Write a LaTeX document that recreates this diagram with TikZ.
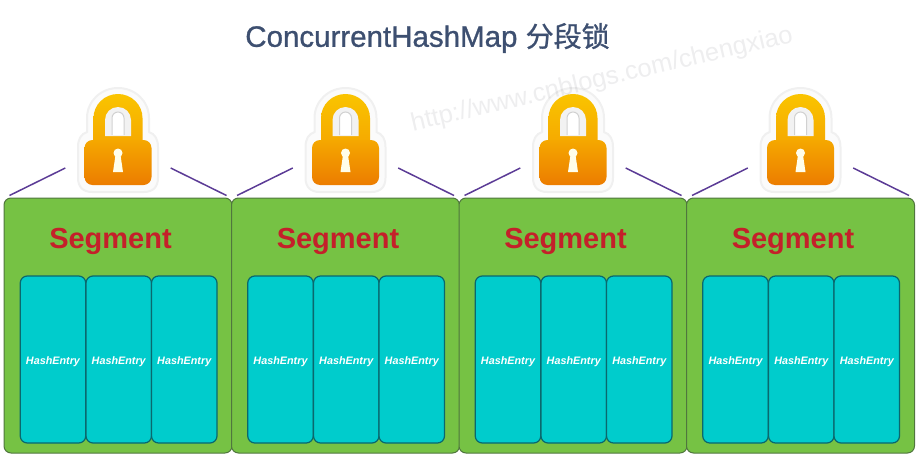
\documentclass[tikz,border=0pt]{standalone}
\usepackage{fontspec}
\setmainfont{Liberation Sans}
\newfontfamily\cjk[FakeBold=0.9]{Noto Sans CJK SC}
\newfontfamily\titlefont[FakeBold=0.9]{Liberation Sans}
\definecolor{titleblue}{RGB}{61, 79, 112}
\definecolor{segmentgreen}{RGB}{118, 194, 68}
\definecolor{segmentedge}{RGB}{80, 118, 62}
\definecolor{segmentred}{RGB}{196, 32, 42}
\definecolor{entrycyan}{RGB}{0, 204, 204}
\definecolor{entryedge}{RGB}{10, 104, 110}
\definecolor{tiepurple}{RGB}{92, 60, 150}
\definecolor{locktop}{RGB}{250, 196, 0}
\definecolor{lockmid}{RGB}{245, 168, 0}
\definecolor{lockbottom}{RGB}{236, 124, 0}
\definecolor{lockhalo}{RGB}{240, 240, 240}
\definecolor{lockglow}{RGB}{251, 251, 251}
\definecolor{watermark}{RGB}{120, 120, 130}
\usetikzlibrary{calc}
\tikzset{
    segbox/.style={draw=segmentedge, line width=1pt, fill=segmentgreen, rounded corners=7pt,
                   minimum width=228pt, minimum height=255pt, inner sep=0pt},
    entrybox/.style={draw=entryedge, line width=1.2pt, fill=entrycyan, rounded corners=7pt,
                     minimum width=65.5pt, minimum height=167pt, inner sep=0pt,
                     text height=10pt, text depth=0pt},
    lockbody/.style={rounded corners=8pt, minimum width=67pt, minimum height=45pt, inner sep=0pt,
                     top color=lockmid, bottom color=lockbottom},
    tie/.style={tiepurple, line width=1.5pt},
}

\begin{document}
\begin{tikzpicture}[x=1pt, y=-1pt]
    \useasboundingbox (0, 0) rectangle (918, 463);

    % Title
    \node[font=\titlefont\fontsize{29.5}{30}\selectfont, titleblue] (title) at (427.5, 38) {ConcurrentHashMap {\cjk\fontsize{28}{30}\selectfont 分段锁}};

    % Segments
    \foreach \i/\cx in {1/118, 2/345.5, 3/573, 4/800.5} {
        \node[segbox] (seg\i) at (\cx, 325.5) {};
        \node[font=\bfseries\fontsize{29}{30}\selectfont, segmentred, text height=21pt, text depth=0pt] (name\i) at (\cx-7.5, 238) {Segment};

        % HashEntry columns
        \foreach \j/\dx in {1/-65, 2/0.75, 3/66.25} {
            \node[entrybox, font=\bfseries\itshape\fontsize{10.8}{12}\selectfont, text=white] (entry\i\j) at (\cx+\dx, 359.5) {HashEntry};
        }

        % Lock halo
        \draw[lockhalo, line width=2pt, fill=lockglow] (\cx-40, 147)
            .. controls (\cx-40, 139) and (\cx-37, 134) .. (\cx-31, 132) -- (\cx-31, 118)
            .. controls (\cx-31, 101) and (\cx-17, 88) .. (\cx, 88)
            .. controls (\cx+17, 88) and (\cx+31, 101) .. (\cx+31, 118) -- (\cx+31, 132)
            .. controls (\cx+37, 134) and (\cx+40, 139) .. (\cx+40, 147) -- (\cx+40, 178)
            .. controls (\cx+40, 187) and (\cx+35, 192) .. (\cx+26, 192) -- (\cx-26, 192)
            .. controls (\cx-35, 192) and (\cx-40, 187) .. (\cx-40, 178) -- cycle;

        % Lock shackle
        \shade[top color=locktop, bottom color=lockmid] (\cx-24.5, 145) -- (\cx-24.5, 118)
            .. controls (\cx-24.5, 104.7) and (\cx-13.5, 94) .. (\cx, 94)
            .. controls (\cx+13.5, 94) and (\cx+24.5, 104.7) .. (\cx+24.5, 118) -- (\cx+24.5, 145) -- cycle;
        \fill[white!95!black] (\cx-13, 136) -- (\cx-13, 120)
            .. controls (\cx-13, 112.8) and (\cx-7.2, 107) .. (\cx, 107)
            .. controls (\cx+7.2, 107) and (\cx+13, 112.8) .. (\cx+13, 120) -- (\cx+13, 136) -- cycle;
        \draw[black!18, line width=1pt, fill=white] (\cx-6, 135) -- (\cx-6, 118)
            .. controls (\cx-6, 114.7) and (\cx-3.3, 112) .. (\cx, 112)
            .. controls (\cx+3.3, 112) and (\cx+6, 114.7) .. (\cx+6, 118) -- (\cx+6, 135);

        % Lock body
        \node[lockbody] (lock\i) at (\cx, 162.5) {};

        % Keyhole
        \fill[white!92!yellow] (\cx, 153) circle (4.5);
        \fill[white!92!yellow] (\cx-2.5, 155) -- (\cx+2.5, 155) -- (\cx+5, 172) -- (\cx-5, 172) -- cycle;

        % Ties from the lock to the segment corners
        \coordinate (tieleft\i) at ($(lock\i.west)+(-19, 5.5)$);
        \coordinate (tieright\i) at ($(lock\i.east)+(19, 5.5)$);
        \coordinate (cornerleft\i) at ($(seg\i.north west)+(6, -2)$);
        \coordinate (cornerright\i) at ($(seg\i.north east)+(-6, -2)$);
        \draw[tie] (tieleft\i) -- (cornerleft\i);
        \draw[tie] (tieright\i) -- (cornerright\i);
    }

    % Watermark
    \node[font=\fontsize{25.5}{26}\selectfont, text=watermark, text opacity=0.13, rotate=13.2] (mark) at (602, 80) {http://www.cnblogs.com/chengxiao};
\end{tikzpicture}
\end{document}
